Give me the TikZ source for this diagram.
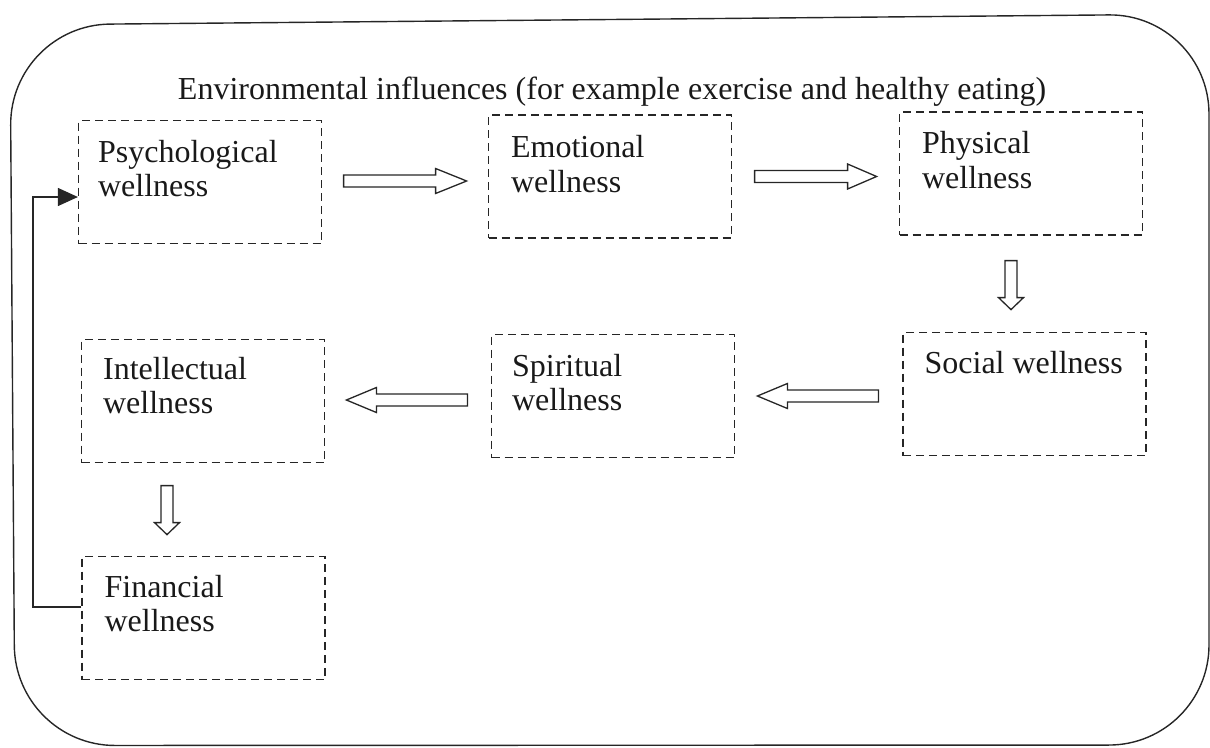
\documentclass[tikz,border=0pt]{standalone}
\usepackage{fontspec}
\setmainfont{Liberation Serif}
\usetikzlibrary{calc,arrows.meta}
\tikzset{
  wbox/.style={draw=black!85, dash pattern=on 8pt off 5pt, line width=1.2pt,
    minimum width=243pt, minimum height=123pt, inner sep=0pt},
  wtext/.style={anchor=north west, inner sep=0pt, align=left,
    font=\fontsize{32}{34.5}\selectfont, text=black!90},
  titletext/.style={anchor=base, inner sep=0pt, font=\fontsize{32}{34.5}\selectfont, text=black!90},
  barrow/.style={draw=black!85, line width=1.3pt, fill=white, line join=miter},
  fbline/.style={draw=black!85, line width=1.2pt, -{Triangle[length=20pt,width=18pt]}},
  frameline/.style={draw=black!85, line width=1.4pt, rounded corners=100pt},
}
\newcommand{\blockarrow}[4]{%
  \draw[barrow, shift={(#1)}, rotate=#2] (0,-6) -- ({#3-#4},-6) -- ({#3-#4},-12.5)
    -- (#3,0) -- ({#3-#4},12.5) -- ({#3-#4},6) -- (0,6) -- cycle;}
\begin{document}
\begin{tikzpicture}[x=1pt,y=-1pt]
\useasboundingbox (0,0) rectangle (1210,747);
% outer frame
\draw[frameline] (600,19.6) -- (1209,14) -- (1209,745) -- (15,745.5) -- (10,25) -- cycle;
% title
\node[titletext] (title) at (612,99) {Environmental influences (for example exercise and healthy eating)};
% boxes
\node[wbox] (psy) at (200,182) {};
\node[wbox] (emo) at (610,176.5) {};
\node[wbox] (phy) at (1021,173.5) {};
\node[wbox] (soc) at (1024.5,394) {};
\node[wbox] (spi) at (613,396) {};
\node[wbox] (int) at (203,401) {};
\node[wbox] (fin) at (203.5,618) {};
% texts
\node[wtext] (psyt) at ($(psy.north west)+(20,20)$) {Psychological\\wellness};
\node[wtext] (emot) at ($(emo.north west)+(23,21)$) {Emotional\\wellness};
\node[wtext] (phyt) at ($(phy.north west)+(23,20)$) {Physical\\wellness};
\node[wtext] (soct) at ($(soc.north west)+(22,19)$) {Social wellness};
\node[wtext] (spit) at ($(spi.north west)+(21,20)$) {Spiritual\\wellness};
\node[wtext] (intt) at ($(int.north west)+(22,18)$) {Intellectual\\wellness};
\node[wtext] (fint) at ($(fin.north west)+(23,19)$) {Financial\\wellness};
% block arrows
\coordinate (a1) at ($(psy.east)+(21.5,-1)$);
\coordinate (a2) at ($(emo.east)+(22.5,0)$);
\coordinate (a3) at ($(phy.south)+(-10,25)$);
\coordinate (a4) at ($(soc.west)+(-24,2)$);
\coordinate (a5) at ($(spi.west)+(-23.5,4)$);
\coordinate (a6) at ($(int.south)+(-36,22.5)$);
\blockarrow{a1}{0}{123}{31}
\blockarrow{a2}{0}{122}{29}
\blockarrow{a3}{-90}{49}{12}
\blockarrow{a4}{180}{121}{30}
\blockarrow{a5}{180}{121}{30}
\blockarrow{a6}{-90}{49}{12}
% feedback connector
\coordinate (fbs) at ($(fin.west)+(0,-11)$);
\coordinate (fbe) at ($(psy.west)+(0,15)$);
\coordinate (fbx) at (33,0);
\draw[fbline] (fbs) -- (fbs -| fbx) -- (fbx |- fbe) -- (fbe);
\end{tikzpicture}
\end{document}
